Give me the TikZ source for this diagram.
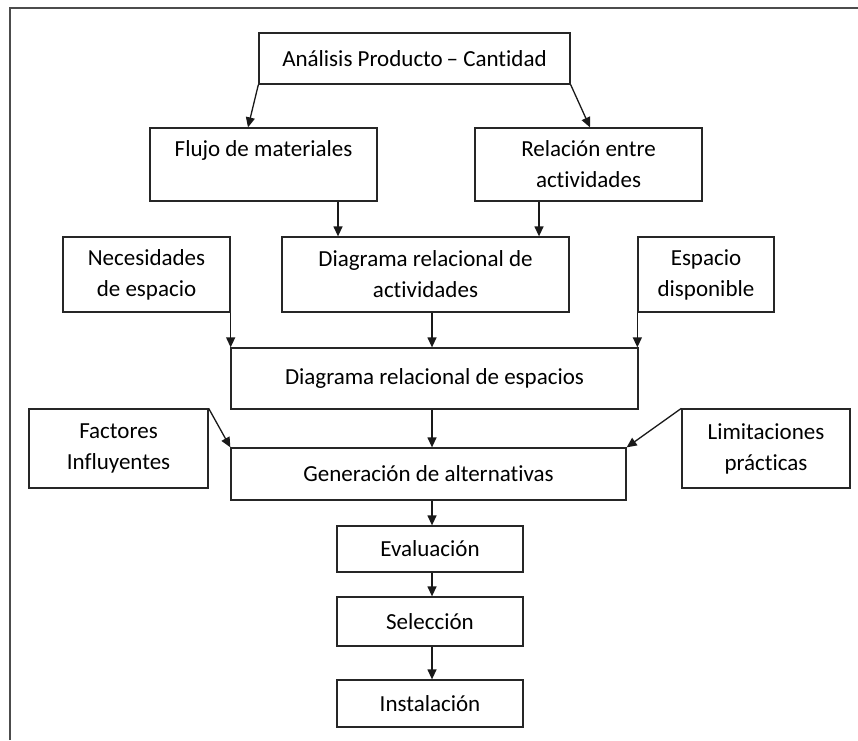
\documentclass[tikz,border=0pt]{standalone}
\usepackage{fontspec}
\setmainfont{Carlito}[Ligatures={NoCommon}]
\usetikzlibrary{arrows.meta}
\begin{document}
\begin{tikzpicture}[x=1pt,y=-1pt,
  box/.style={draw=black!85, line width=1.3pt, align=center, inner sep=0pt,
    font=\fontsize{23}{31}\selectfont, text=black},
  arr/.style={draw=black!90, line width=1.3pt, -{Triangle[length=10pt,width=9pt]}},
  frameline/.style={draw=black!70, line width=2pt}]
\useasboundingbox (0,0) rectangle (858,740);

% outer frame (only the top and left edges fall inside the page)
\draw[frameline] (10,740) -- (10,8) -- (858,8);

% boxes
\node[box, minimum width=311pt, minimum height=51pt] (ana) at (414.5,58.5) {Análisis Producto\thinspace– Cantidad};
\node[box, minimum width=227pt, minimum height=73pt] (flujo) at (263.5,164.5) {Flujo de materiales\\\mbox{}};
\node[box, minimum width=227pt, minimum height=73pt] (rel) at (588.5,164.5) {Relación entre\\actividades};
\node[box, minimum width=167pt, minimum height=75pt] (nec) at (146.5,274.5) {Necesidades\\de espacio};
\node[box, minimum width=287pt, minimum height=75pt] (dra) at (425.5,274.5) {Diagrama relacional de\\actividades};
\node[box, minimum width=136pt, minimum height=75pt] (esp) at (706,274.5) {Espacio\\disponible};
\node[box, minimum width=407pt, minimum height=61pt] (dre) at (434.5,378.5) {\raisebox{4pt}{Diagrama relacional de espacios}};
\node[box, minimum width=179pt, minimum height=79pt] (fac) at (118.5,448.5) {Factores\\Influyentes};
\node[box, minimum width=168pt, minimum height=79pt] (lim) at (766,448.5) {Limitaciones\\prácticas};
\node[box, minimum width=395pt, minimum height=52pt] (gen) at (428.5,474) {Generación de alternativas};
\node[box, minimum width=186pt, minimum height=46pt] (eva) at (430,549) {Evaluación};
\node[box, minimum width=186pt, minimum height=49pt] (sel) at (430,621.5) {Selección};
\node[box, minimum width=186pt, minimum height=47pt] (ins) at (430,703.5) {Instalación};

% x positions of the vertical connectors
\coordinate (colx) at (432,0);
\coordinate (fx) at (338,0);
\coordinate (rx) at (539,0);
\coordinate (ax1) at (248,0);
\coordinate (ax2) at (590,0);

% connectors
\draw[arr] (ana.south west) -- (flujo.north -| ax1);
\draw[arr] (ana.south east) -- (rel.north -| ax2);
\draw[arr] (flujo.south -| fx) -- (dra.north -| fx);
\draw[arr] (rel.south -| rx) -- (dra.north -| rx);
\draw[arr] (nec.south east) -- (nec.south east |- dre.north);
\draw[arr] (dra.south -| colx) -- (dre.north -| colx);
\draw[arr] (esp.south west) -- (esp.south west |- dre.north);
\draw[arr] (dre.south -| colx) -- (gen.north -| colx);
\draw[arr] (fac.north east) -- (gen.north west);
\draw[arr] (lim.north west) -- (gen.north east);
\draw[arr] (gen.south -| colx) -- (eva.north -| colx);
\draw[arr] (eva.south -| colx) -- (sel.north -| colx);
\draw[arr] (sel.south -| colx) -- (ins.north -| colx);
\end{tikzpicture}
\end{document}
